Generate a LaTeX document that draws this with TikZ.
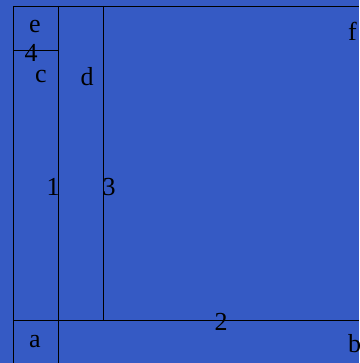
\documentclass[tikz,border=0pt]{standalone}
\usepackage{fontspec}
\setmainfont{Liberation Serif}
\definecolor{bgblue}{RGB}{53,90,196}
\begin{document}
\begin{tikzpicture}[x=1pt,y=-1pt,
  lbl/.style={inner sep=0pt,font=\fontsize{26}{26}\selectfont,text=black},
  edge/.style={draw=black,line width=0.9pt}]
\fill[bgblue] (0,0) rectangle (359,363);
\useasboundingbox (0,0) rectangle (359,363);
\coordinate (tl) at (13,6);
\coordinate (tr) at (359,6);
\coordinate (bl) at (13,363);
\coordinate (v1t) at (58,6);
\coordinate (v1b) at (58,363);
\coordinate (v3t) at (103,6);
\coordinate (v3b) at (103,320);
\coordinate (hl) at (13,320);
\coordinate (hr) at (359,320);
\coordinate (h4l) at (13,50);
\coordinate (h4r) at (58,50);
\draw[edge] (tl) -- (tr);
\draw[edge] (tl) -- (bl);
\draw[edge] (v1t) -- (v1b);
\draw[edge] (v3t) -- (v3b);
\draw[edge] (hl) -- (hr);
\draw[edge] (h4l) -- (h4r);
\node[lbl] (e) at (35,27) {e};
\node[lbl] (n4) at (31,53) {4};
\node[lbl] (c) at (41,77) {c};
\node[lbl] (d) at (87,77) {d};
\node[lbl] (n1) at (53,187) {1};
\node[lbl] (n3) at (109,187) {3};
\node[lbl] (n2) at (221,322) {2};
\node[lbl] (a) at (35,342) {a};
\node[lbl,anchor=west] (b) at (348,344) {b};
\node[lbl,anchor=west] (f) at (348,31) {f};
\end{tikzpicture}
\end{document}
